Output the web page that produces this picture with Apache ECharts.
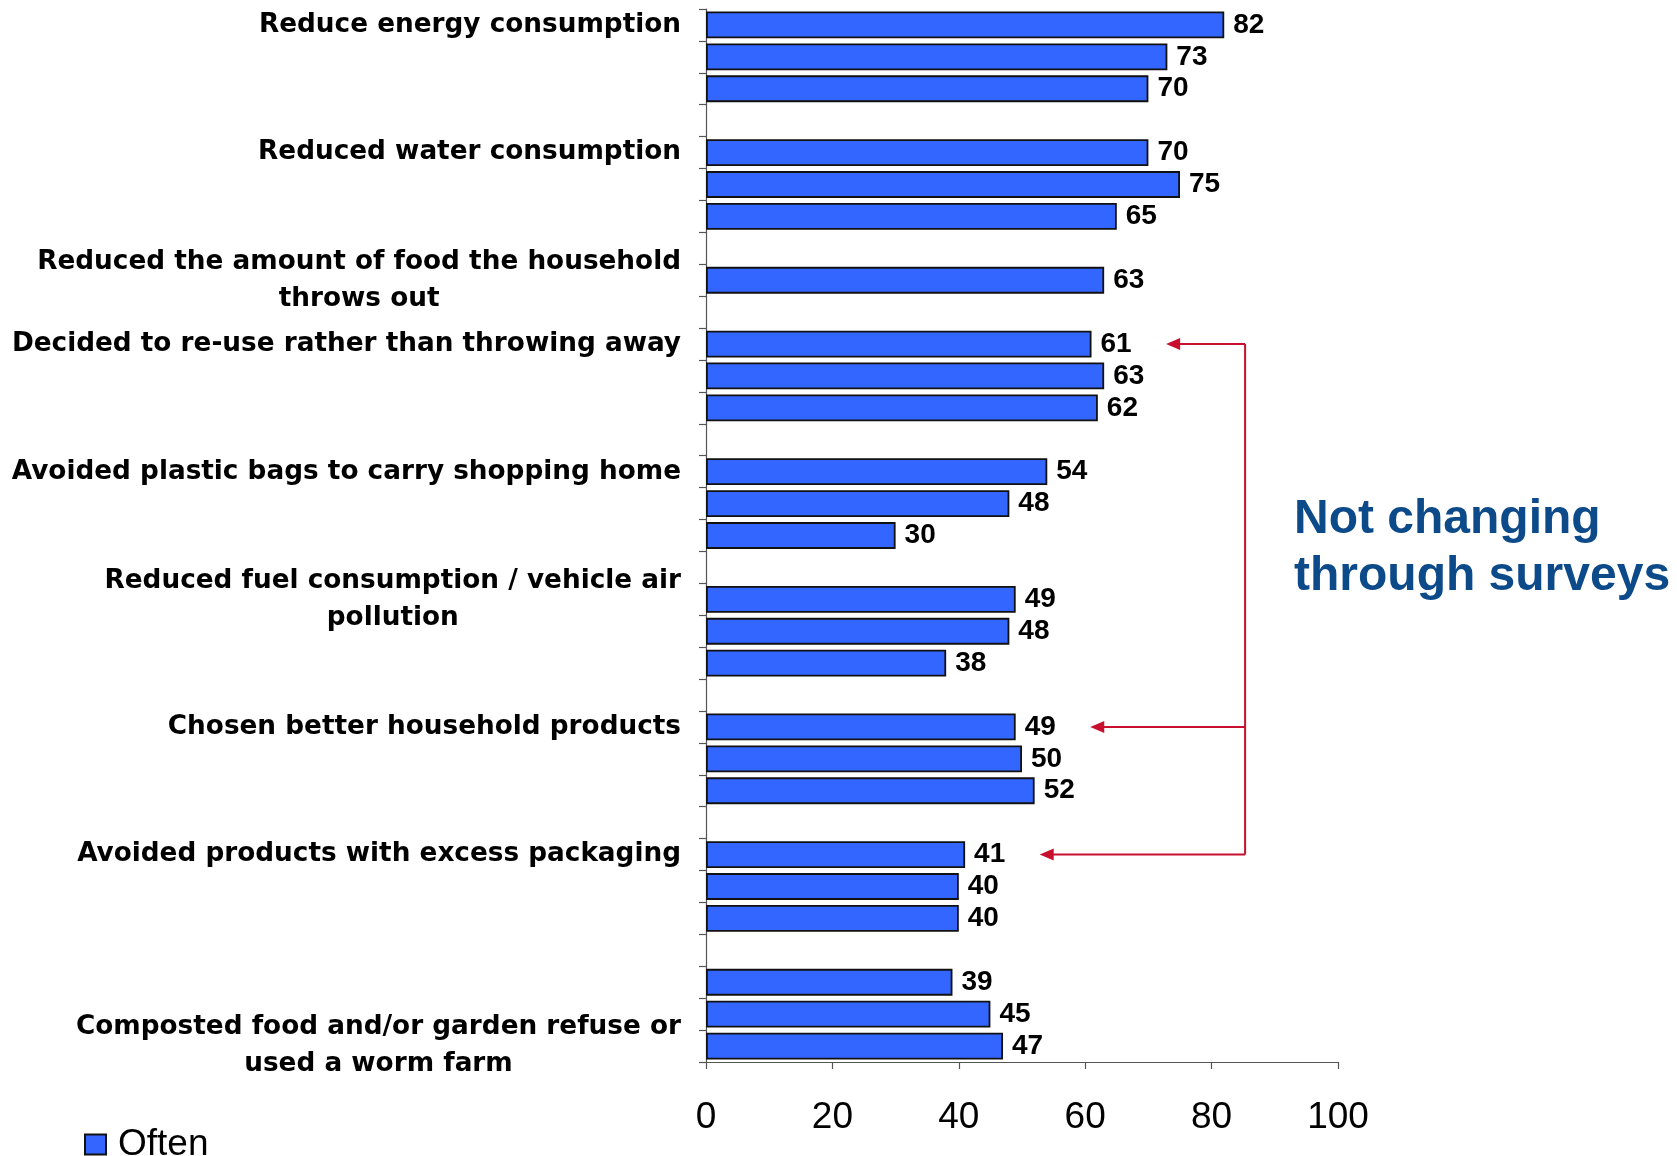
<!DOCTYPE html>
<html>
<head>
<meta charset="utf-8">
<script src="https://cdn.jsdelivr.net/npm/echarts@6/dist/echarts.min.js"></script>
<style>
html,body{margin:0;padding:0;background:#fff;}
#c{width:1677px;height:1156px;}
</style>
</head>
<body>
<div id="c"></div>
<script>
// ---- data ----
const groupLabels = [
  'Reduce energy consumption',
  'Reduced water consumption',
  'Reduced the amount of food the household\nthrows out',
  'Decided to re-use rather than throwing away',
  'Avoided plastic bags to carry shopping home',
  'Reduced fuel consumption / vehicle air\npollution',
  'Chosen better household products',
  'Avoided products with excess packaging',
  'Composted food and/or garden refuse or\nused a worm farm'
];
const groupValues = [
  [82, 73, 70],
  [70, 75, 65],
  [63],
  [61, 63, 62],
  [54, 48, 30],
  [49, 48, 38],
  [49, 50, 52],
  [41, 40, 40],
  [39, 45, 47]
];
const labelRowInGroup = [0, 0, 0, 0, 0, 0, 0, 0, 2];
const seriesName = 'Often';
const xMin = 0, xMax = 100, xStep = 20;
const noteText = 'Not changing\nthrough surveys';
const arrowGroups = [3, 6, 7];

// ---- build rows ----
const rowIds = [], rowLabels = [], rowValues = [], groupFirstRow = [];
groupValues.forEach((vals, g) => {
  groupFirstRow.push(rowIds.length);
  vals.forEach((v, i) => {
    rowIds.push('r' + rowIds.length);
    rowLabels.push(i === labelRowInGroup[g] ? groupLabels[g] : '');
    rowValues.push(v);
  });
  if (g < groupValues.length - 1) {
    rowIds.push('r' + rowIds.length);
    rowLabels.push('');
    rowValues.push(null);
  }
});

const chart = echarts.init(document.getElementById('c'));
const catFont = 'DejaVu Sans';
const option = {
  animation: false,
  backgroundColor: '#ffffff',
  grid: { left: 706, right: 339, top: 9, bottom: 94, containLabel: false },
  legend: {
    data: [seriesName],
    left: 79, top: 1121,
    icon: 'rect', itemWidth: 21, itemHeight: 20, itemGap: 10,
    textStyle: { fontFamily: 'Liberation Sans', fontSize: 37, color: '#000', padding: [0, 0, 0, 7] }
  },
  xAxis: {
    type: 'value', min: xMin, max: xMax, interval: xStep,
    splitLine: { show: false },
    axisLine: { show: true, lineStyle: { color: '#555', width: 1.2 } },
    axisTick: { show: true, length: 7, lineStyle: { color: '#555', width: 1.2 } },
    axisLabel: { margin: 37, fontFamily: 'Liberation Sans', fontSize: 37, color: '#000' }
  },
  yAxis: {
    type: 'category', inverse: true, data: rowIds,
    axisLine: { show: true, lineStyle: { color: '#555', width: 1.2 } },
    axisTick: { show: true, interval: 0, length: 7, lineStyle: { color: '#555', width: 1.2 } },
    axisLabel: {
      interval: 0, margin: 25, align: 'right',
      formatter: (v, i) => {
        const t = rowLabels[i];
        if (!t) return '';
        return t.split('\n').map(s => '{c|' + s + '}').join('\n');
      },
      rich: {
        c: { align: 'center', fontFamily: catFont, fontWeight: 'bold', fontSize: 26.3, lineHeight: 37, color: '#000' }
      }
    }
  },
  series: [{
    name: seriesName,
    type: 'bar',
    data: rowValues,
    barCategoryGap: '16%',
    itemStyle: { color: '#3366FF', borderColor: '#111', borderWidth: 1.8 },
    label: {
      show: true, position: 'right', distance: 9,
      fontFamily: 'Liberation Sans', fontWeight: 'bold', fontSize: 28, color: '#000',
      formatter: p => p.value == null ? '' : String(p.value)
    }
  }]
};
chart.setOption(option);

// annotation arrows & note
const red = '#C8102E';
const px = v => chart.convertToPixel({ xAxisIndex: 0 }, v);
const py = i => chart.convertToPixel({ yAxisIndex: 0 }, rowIds[i]);
const vx = px(85.3);
const elems = [];
const ys = arrowGroups.map(g => py(groupFirstRow[g]));
elems.push({ type: 'line', shape: { x1: vx, y1: ys[0], x2: vx, y2: ys[ys.length - 1] }, style: { stroke: red, lineWidth: 2 } });
arrowGroups.forEach((g, k) => {
  const v = groupValues[g][0];
  const tip = px(v + 11.8);
  const y = ys[k];
  elems.push({ type: 'line', shape: { x1: vx, y1: y, x2: tip + 12, y2: y }, style: { stroke: red, lineWidth: 2 } });
  elems.push({ type: 'polygon', shape: { points: [[tip, y], [tip + 14, y - 6], [tip + 14, y + 6]] }, style: { fill: red } });
});
elems.push({
  type: 'text', left: 1294, top: 548 - 57,
  style: { text: noteText, fontFamily: 'Liberation Sans', fontWeight: 'bold', fontSize: 48, lineHeight: 57, fill: '#0D4A8A' }
});
chart.setOption({ graphic: elems });
</script>
</body>
</html>
